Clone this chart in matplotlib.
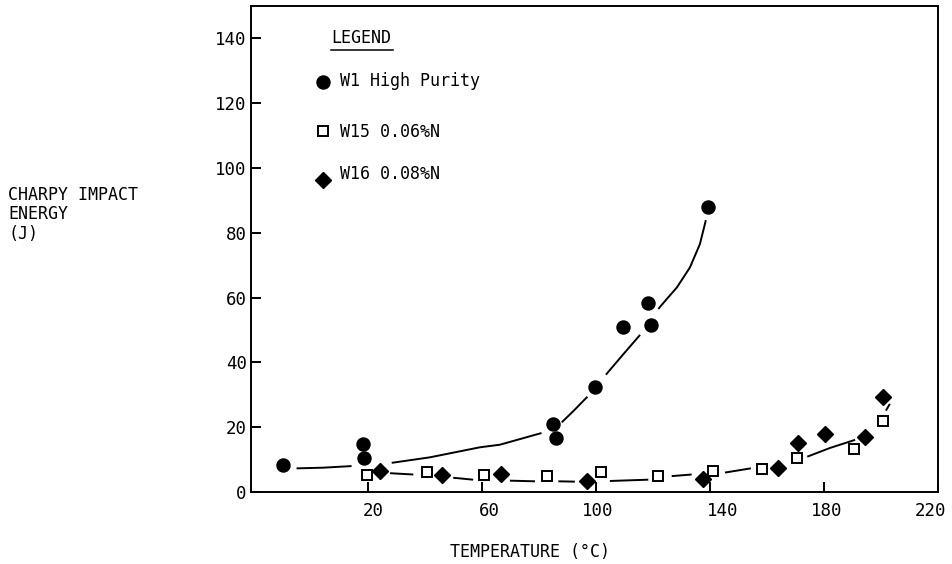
import matplotlib
matplotlib.use("Agg")
import matplotlib.pyplot as plt
import numpy as np
from matplotlib.transforms import ScaledTranslation

plt.rcParams['font.family'] = ['DejaVu Sans Mono', 'DejaVu Sans']

# ---- data ----
w1_temp = [-10.0, 18.2, 18.5, 84.9, 85.8, 99.6, 109.5, 118.1, 119.1, 139.1]
w1_energy = [8.2, 14.9, 10.5, 21.0, 16.6, 32.5, 50.8, 58.3, 51.6, 88.1]

w15_temp = [19.4, 40.7, 60.6, 82.6, 101.6, 121.8, 141.1, 158.3, 170.6, 190.5, 200.6]
w15_energy = [5.4, 6.1, 5.1, 4.8, 6.1, 4.8, 6.6, 7.1, 10.5, 13.3, 22.0]

w16_temp = [24.1, 45.7, 66.6, 96.9, 137.4, 163.7, 170.7, 180.3, 194.4, 200.8]
w16_energy = [6.6, 5.3, 5.6, 3.5, 4.1, 7.3, 15.2, 17.9, 17.1, 29.2]

# hand-drawn trend curves (broken near markers); NaN = gap
w1_curve_temp = [-5.2, 4.0, 14.1, np.nan,
                 28.2, 41.6, 59.2, 66.2, 80.8, np.nan,
                 87.9, 92.0, 96.9, np.nan,
                 103.4, 109.4, 115.4, np.nan,
                 121.8, 124.7, 128.3, 132.9, 136.4, 138.5]
w1_curve_energy = [7.3, 7.5, 8.0, np.nan,
                   9.0, 10.7, 13.8, 14.6, 18.2, np.nan,
                   21.5, 25.0, 29.4, np.nan,
                   36.2, 42.4, 48.5, np.nan,
                   56.5, 59.5, 63.1, 69.3, 76.5, 83.9]

n_curve_temp = [27.6, 35.8, np.nan, 49.8, 56.8, np.nan, 69.7, 78.5, np.nan,
                86.7, 92.5, np.nan, 104.8, 118.3, np.nan, 126.5, 133.5, np.nan,
                145.2, 154.3, np.nan, 174.1, 182.1, 190.9, np.nan, 201.7, 203.1]
n_curve_energy = [5.8, 5.4, np.nan, 4.4, 3.8, np.nan, 3.5, 3.3, np.nan,
                  3.3, 3.2, np.nan, 3.4, 3.8, np.nan, 4.9, 5.4, np.nan,
                  6.0, 7.3, np.nan, 10.9, 13.6, 16.1, np.nan, 25.1, 27.2]

x_ticks = [20, 60, 100, 140, 180, 220]
y_ticks = [0, 20, 40, 60, 80, 100, 120, 140]

series_labels = ["W1 High Purity", "W15 0.06%N", "W16 0.08%N"]

# ---- figure ----
fig = plt.figure(figsize=(9.52, 5.64), dpi=100)
ax = fig.add_axes([251 / 952, 72 / 564, 687 / 952, 486 / 564])

ax.set_xlim(-21.2, 220)
ax.set_ylim(0, 150)

ax.plot(w1_curve_temp, w1_curve_energy, color='black', lw=1.4, solid_capstyle='butt')
ax.plot(n_curve_temp, n_curve_energy, color='black', lw=1.4, solid_capstyle='butt')

circ_style = dict(linestyle='none', marker='o', ms=9.4, mfc='black', mec='black')
sq_style = dict(linestyle='none', marker='s', ms=7, mfc='white', mec='black', mew=1.4)
dia_style = dict(linestyle='none', marker='D', ms=8, mfc='black', mec='black')

ax.plot(w1_temp, w1_energy, clip_on=False, zorder=3, **circ_style)
ax.plot(w15_temp, w15_energy, clip_on=False, zorder=3, **sq_style)
ax.plot(w16_temp, w16_energy, clip_on=False, zorder=3, **dia_style)

# axes / ticks
for sp in ax.spines.values():
    sp.set_linewidth(1.4)
    sp.set_color('black')

ax.set_xticks(x_ticks)
ax.set_xticklabels([str(t) for t in x_ticks])
ax.set_yticks(y_ticks)
ax.set_yticklabels([str(t) for t in y_ticks])
ax.tick_params(axis='x', direction='in', length=7, width=1.4, pad=7, labelsize=12.5)
ax.tick_params(axis='y', direction='in', length=7, width=1.4, pad=3, labelsize=12.5)

# small hand-drawn offsets of x tick labels (pixels)
x_label_offsets = [5, 7, 1, 12.5, 3, -7.3]
for lab, off in zip(ax.get_xticklabels(), x_label_offsets):
    lab.set_transform(lab.get_transform() + ScaledTranslation(off / 100, 0, fig.dpi_scale_trans))

# legend (drawn inside the axes)
def ax_xy(px, py):
    return (px - 251) / 687, (492 - py) / 486

lx, ly = ax_xy(331.7, 43.3)
ax.text(lx, ly, "LEGEND", transform=ax.transAxes, fontsize=12, va='baseline', ha='left')
ux0, uy = ax_xy(331, 49.5)
ux1, _ = ax_xy(393, 49.5)
ax.plot([ux0, ux1], [uy, uy], transform=ax.transAxes, color='black', lw=1.1)

legend_rows = [
    (circ_style, (323.3, 81.7), (340, 86.0)),
    (sq_style, (322.7, 130.7), (340, 136.7)),
    (dia_style, (323.3, 180.0), (340, 179.0)),
]
for (style, mpos, tpos), label in zip(legend_rows, series_labels):
    mx, my = ax_xy(*mpos)
    ax.plot([mx], [my], transform=ax.transAxes, clip_on=False, **style)
    tx, ty = ax_xy(*tpos)
    ax.text(tx, ty, label, transform=ax.transAxes, fontsize=12, va='baseline', ha='left')

# axis titles
for txt, base in [("CHARPY IMPACT", 200.0), ("ENERGY", 219.3), ("(J)", 238.7)]:
    fig.text(8 / 952, (564 - base) / 564, txt, fontsize=12, va='baseline', ha='left')

fig.text(529.5 / 952, (564 - 557) / 564, "TEMPERATURE (°C)", fontsize=12,
         va='baseline', ha='center')

fig.savefig("out.png", dpi=100, facecolor='white')
